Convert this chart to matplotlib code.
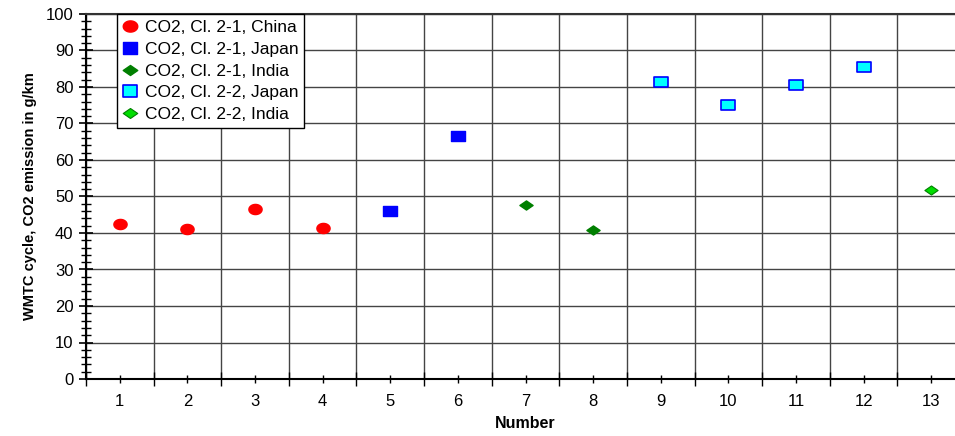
import matplotlib
matplotlib.use("Agg")
import matplotlib.pyplot as plt
import numpy as np
from matplotlib.ticker import MultipleLocator, FixedLocator
from matplotlib.path import Path

plt.rcParams['font.family'] = ['Liberation Sans', 'DejaVu Sans']

china_x = [1, 2, 3, 4]
china_y = [42.5, 41.0, 46.7, 41.3]
japan1_x = [5, 6]
japan1_y = [46.0, 66.5]
india1_x = [7, 8]
india1_y = [47.7, 40.8]
japan2_x = [9, 10, 11, 12]
japan2_y = [81.3, 75.0, 80.5, 85.5]
india2_x = [13]
india2_y = [51.8]
labels = ["CO2, Cl. 2-1, China", "CO2, Cl. 2-1, Japan", "CO2, Cl. 2-1, India",
          "CO2, Cl. 2-2, Japan", "CO2, Cl. 2-2, India"]
xticks = list(range(1, 14))

# horizontally stretched marker shapes (the reference is stretched)
t = np.linspace(0, 2 * np.pi, 60)
ellipse = Path(np.column_stack([1.3 * np.cos(t), np.sin(t)]), closed=True)
rect = Path([(-1.3, -1), (1.3, -1), (1.3, 1), (-1.3, 1), (-1.3, -1)], closed=True)
diam = Path([(-1.45, 0), (0, 1), (1.45, 0), (0, -1), (-1.45, 0)], closed=True)

fig = plt.figure(figsize=(9.55, 4.36), dpi=100)
ax = fig.add_axes([86/955, 1-379/436, 879/955, 365/436])

ax.plot(china_x, china_y, ls='none', marker=ellipse, color='#ff0000', mec='#ff0000', ms=9.5, label=labels[0], zorder=5)
ax.plot(japan1_x, japan1_y, ls='none', marker=rect, color='#0000ff', mec='#0000ff', ms=9.5, label=labels[1], zorder=5)
ax.plot(india1_x, india1_y, ls='none', marker=diam, color='#007f00', mec='#007f00', ms=9.5, label=labels[2], zorder=5)
ax.plot(japan2_x, japan2_y, ls='none', marker=rect, color='#00ffff', mec='#0000ff', mew=1.2, ms=9.5, label=labels[3], zorder=5)
ax.plot(india2_x, india2_y, ls='none', marker=diam, color='#00dd00', mec='#008000', mew=0.8, ms=9.5, label=labels[4], zorder=5)

ax.set_xlim(0.5, 13.5)
ax.set_ylim(0, 100)
ax.xaxis.set_major_locator(FixedLocator(xticks))
ax.set_xticklabels([str(v) for v in xticks])
ax.xaxis.set_minor_locator(FixedLocator([v + 0.5 for v in [0] + xticks]))
ax.yaxis.set_major_locator(MultipleLocator(10))
ax.yaxis.set_minor_locator(MultipleLocator(2))

ax.grid(True, which='major', axis='y', color='#444444', lw=1.0)
ax.grid(True, which='minor', axis='x', color='#444444', lw=1.0)
ax.set_axisbelow(True)

ax.tick_params(axis='x', which='major', direction='inout', length=6, width=1, labelsize=12, pad=8)
ax.tick_params(axis='x', which='minor', direction='inout', length=10, width=1)
ax.tick_params(axis='y', which='major', direction='inout', length=10, width=1.2, labelsize=12, pad=4)
ax.tick_params(axis='y', which='minor', direction='inout', length=7, width=1)

for s in ['left', 'bottom']:
    ax.spines[s].set_linewidth(1.5)
    ax.spines[s].set_color('black')
ax.spines['top'].set_linewidth(1.5)
ax.spines['top'].set_color('#333333')
ax.spines['right'].set_visible(False)

ax.set_xlabel('Number', fontsize=11.5, fontweight='bold', labelpad=5)
ax.set_ylabel('WMTC cycle, CO2 emission in g/km', fontsize=10.5, fontweight='bold', labelpad=6)

leg = ax.legend(loc='upper left', bbox_to_anchor=(31/879, 1.0), fontsize=12.5,
                frameon=True, fancybox=False, edgecolor='black', framealpha=1,
                handlelength=0.8, handletextpad=0.45, borderpad=0.35, labelspacing=0.38,
                borderaxespad=0, markerscale=1.1)
leg.get_frame().set_linewidth(1.0)

fig.savefig('out.png', dpi=100)
